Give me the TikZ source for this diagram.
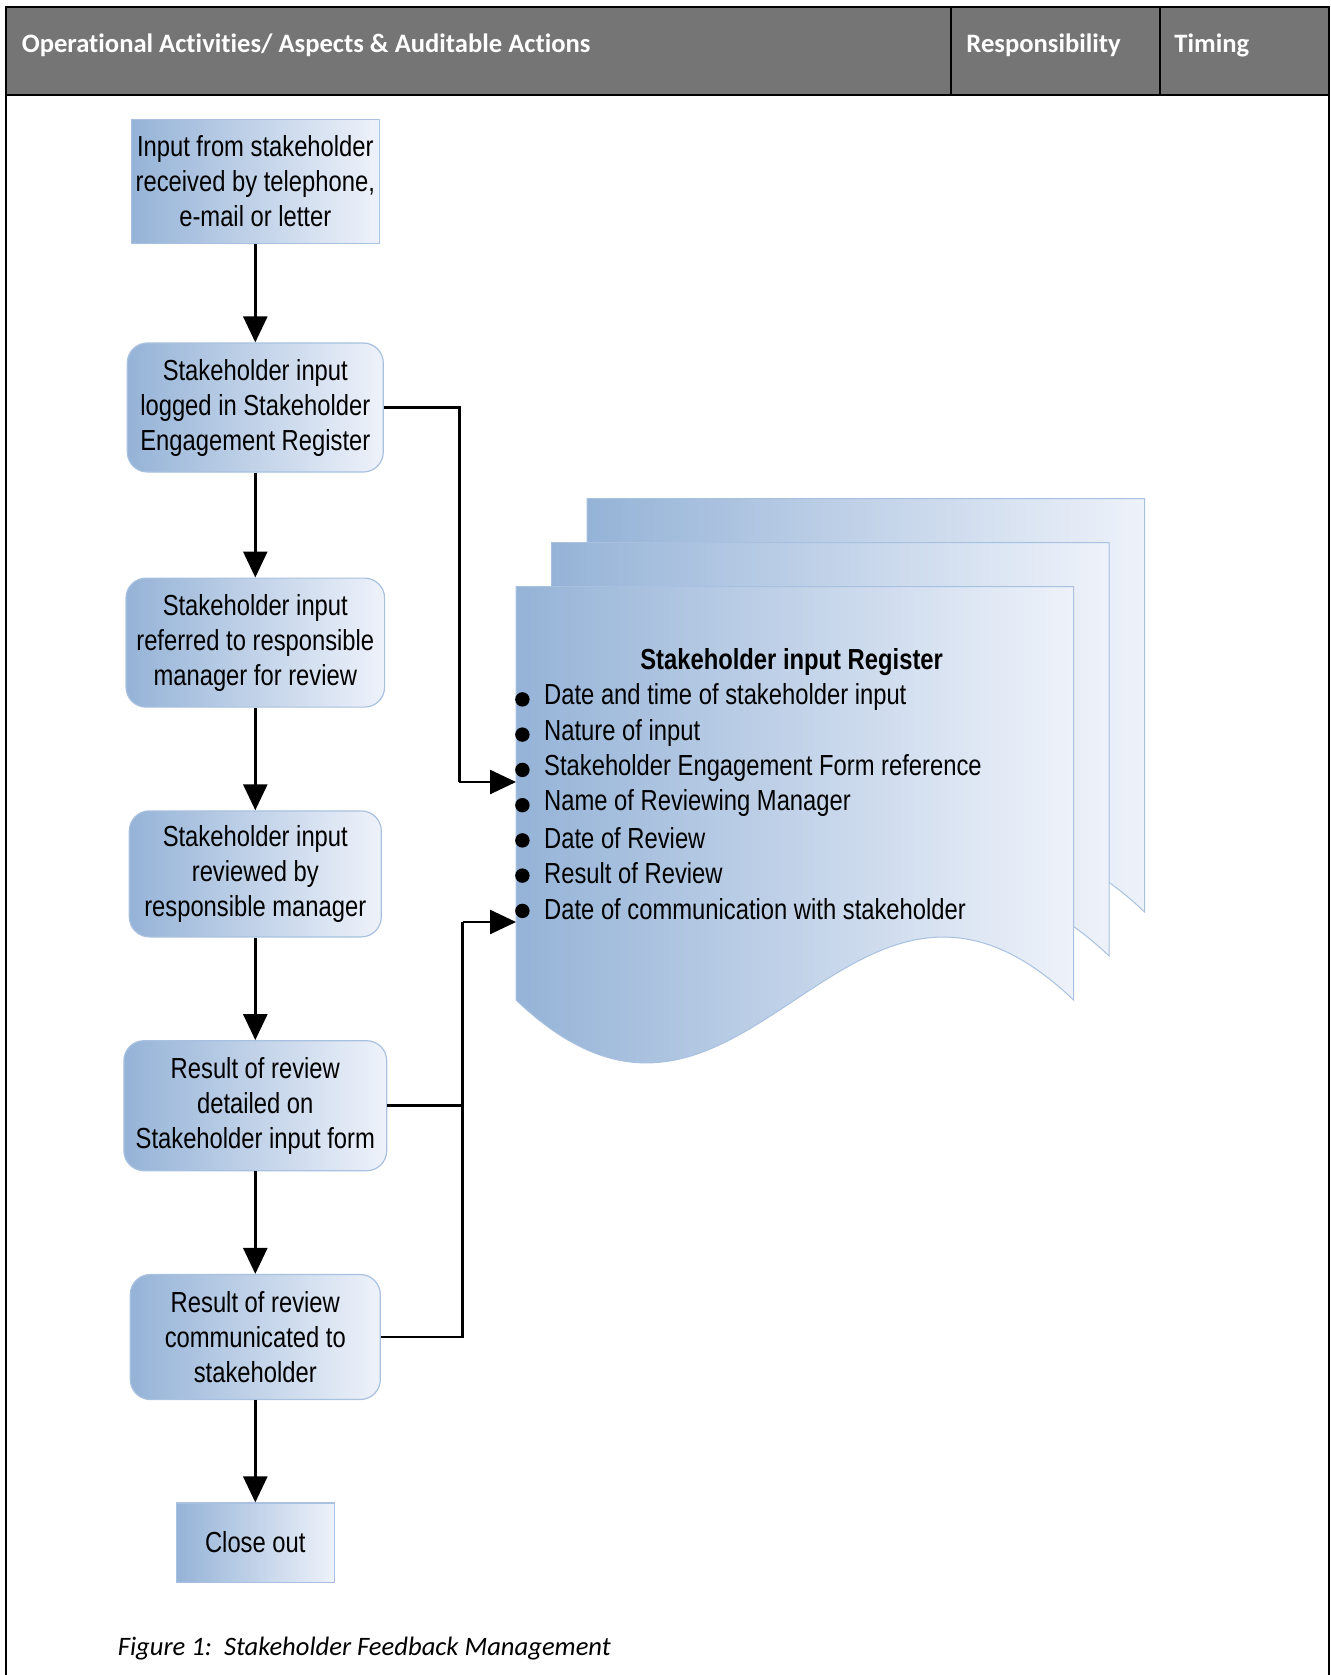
\documentclass[tikz,border=0pt]{standalone}
\usepackage{fontspec}
\newfontfamily\narrowfont[FakeStretch=0.82]{Liberation Sans}
\newfontfamily\calfont[Ligatures=NoCommon]{Carlito}
\usetikzlibrary{arrows.meta}
\definecolor{hdrgray}{HTML}{757575}
\definecolor{flowdark}{HTML}{95B3D7}
\definecolor{flowlight}{HTML}{EEF2FA}
\definecolor{flowedge}{HTML}{A9C1E0}
\tikzset{
  flowbox/.style={draw=flowedge, line width=0.6pt, left color=flowdark, right color=flowlight,
    font=\narrowfont\fontsize{14.5}{17.5}\selectfont, align=center, inner sep=0pt},
  procbox/.style={flowbox, rounded corners=10pt},
  conn/.style={line width=1.3pt, -{Triangle[length=13pt,width=12pt]}},
  link/.style={line width=1.3pt},
  sheet/.style={draw=flowedge, line width=0.5pt, left color=flowdark, right color=flowlight},
  hdrtext/.style={font=\calfont\bfseries\fontsize{13.3}{16}\selectfont, text=white, anchor=west, inner sep=0pt},
  regtext/.style={font=\narrowfont\fontsize{14.5}{17.5}\selectfont, anchor=west, inner sep=0pt},
}
\newcommand{\docsheet}{(516,1000) -- (516,586.5) -- (1073.6,586.5) -- (1073.6,1000)
  .. controls (844.6,782) and (745,1218) .. (516,1000) -- cycle}
\begin{document}
\begin{tikzpicture}[x=0.5pt,y=-0.5pt]
\useasboundingbox (0,0) rectangle (1330,1675);

% table header
\fill[hdrgray] (6.4,7.5) rectangle (1328.5,95);
\draw[line width=1pt] (6.4,1675) -- (6.4,7.5) -- (1328.5,7.5) -- (1328.5,1675);
\draw[line width=1.2pt] (6.4,95) -- (1328.5,95);
\draw[line width=0.8pt] (951,7.5) -- (951,95);
\draw[line width=0.8pt] (1160,7.5) -- (1160,95);
\node[hdrtext] (h1) at (21.4,45) {Operational Activities/ Aspects \& Auditable Actions};
\node[hdrtext] (h2) at (966,45) {Responsibility};
\node[hdrtext] (h3) at (1174,45) {Timing};

% register: stacked document sheets
\begin{scope}[shift={(71,-88)}]
  \path[sheet] \docsheet;
\end{scope}
\begin{scope}[shift={(35.5,-44)}]
  \path[sheet] \docsheet;
\end{scope}
\path[sheet] \docsheet;
\coordinate (docin1) at (516,782);
\coordinate (docin2) at (516,922);

\node[font=\narrowfont\bfseries\fontsize{14.5}{17.5}\selectfont, inner sep=0pt] (rt) at (791.6,662) {Stakeholder input Register};
\foreach \y/\t [count=\i] in {694.4/Date and time of stakeholder input,
    729.6/Nature of input,
    764.9/Stakeholder Engagement Form reference,
    800.2/Name of Reviewing Manager,
    835.4/Date of Review,
    870.6/Result of Review,
    905.9/Date of communication with stakeholder}{
  \fill (522.4,\y+5) circle[radius=3.6pt];
  \node[regtext] (r\i) at (543.8,\y+3) {\t};
}

% flow boxes
\node[flowbox, minimum width=124pt, minimum height=62pt] (b1) at (255.3,181.6)
  {Input from stakeholder\\received by telephone,\\e-mail or letter};
\node[procbox, minimum width=128pt, minimum height=64.5pt] (b2) at (255.3,407.5)
  {Stakeholder input\\logged in Stakeholder\\Engagement Register};
\node[procbox, minimum width=129.3pt, minimum height=64.5pt] (b3) at (255.3,642.6)
  {Stakeholder input\\referred to responsible\\manager for review};
\node[procbox, minimum width=126pt, minimum height=63pt] (b4) at (255.3,873.9)
  {Stakeholder input\\reviewed by\\responsible manager};
\node[procbox, minimum width=131.4pt, minimum height=65pt] (b5) at (255.3,1105.7)
  {Result of review\\detailed on\\Stakeholder input form};
\node[procbox, minimum width=125pt, minimum height=62.5pt] (b6) at (255.3,1337)
  {Result of review\\communicated to\\stakeholder};
\node[flowbox, minimum width=79pt, minimum height=39.6pt] (b7) at (255.3,1542.6)
  {Close out};

% connectors
\draw[conn] (b1) -- (b2);
\draw[conn] (b2) -- (b3);
\draw[conn] (b3) -- (b4);
\draw[conn] (b4) -- (b5);
\draw[conn] (b5) -- (b6);
\draw[conn] (b6) -- (b7);

\coordinate (j1) at (459.4,782);
\coordinate (j2) at (462.6,922);
\draw[link] (b2.east) -| (j1);
\draw[conn] (j1) -- (docin1);
\draw[link] (b5.east) -| (j2);
\draw[link] (b6.east) -| (j2);
\draw[conn] (j2) -- (docin2);

% caption
\node[font=\calfont\itshape\fontsize{13.3}{16}\selectfont, anchor=west, inner sep=0pt] (cap) at (117.5,1649)
  {Figure 1:\ \ Stakeholder Feedback Management};
\end{tikzpicture}
\end{document}
